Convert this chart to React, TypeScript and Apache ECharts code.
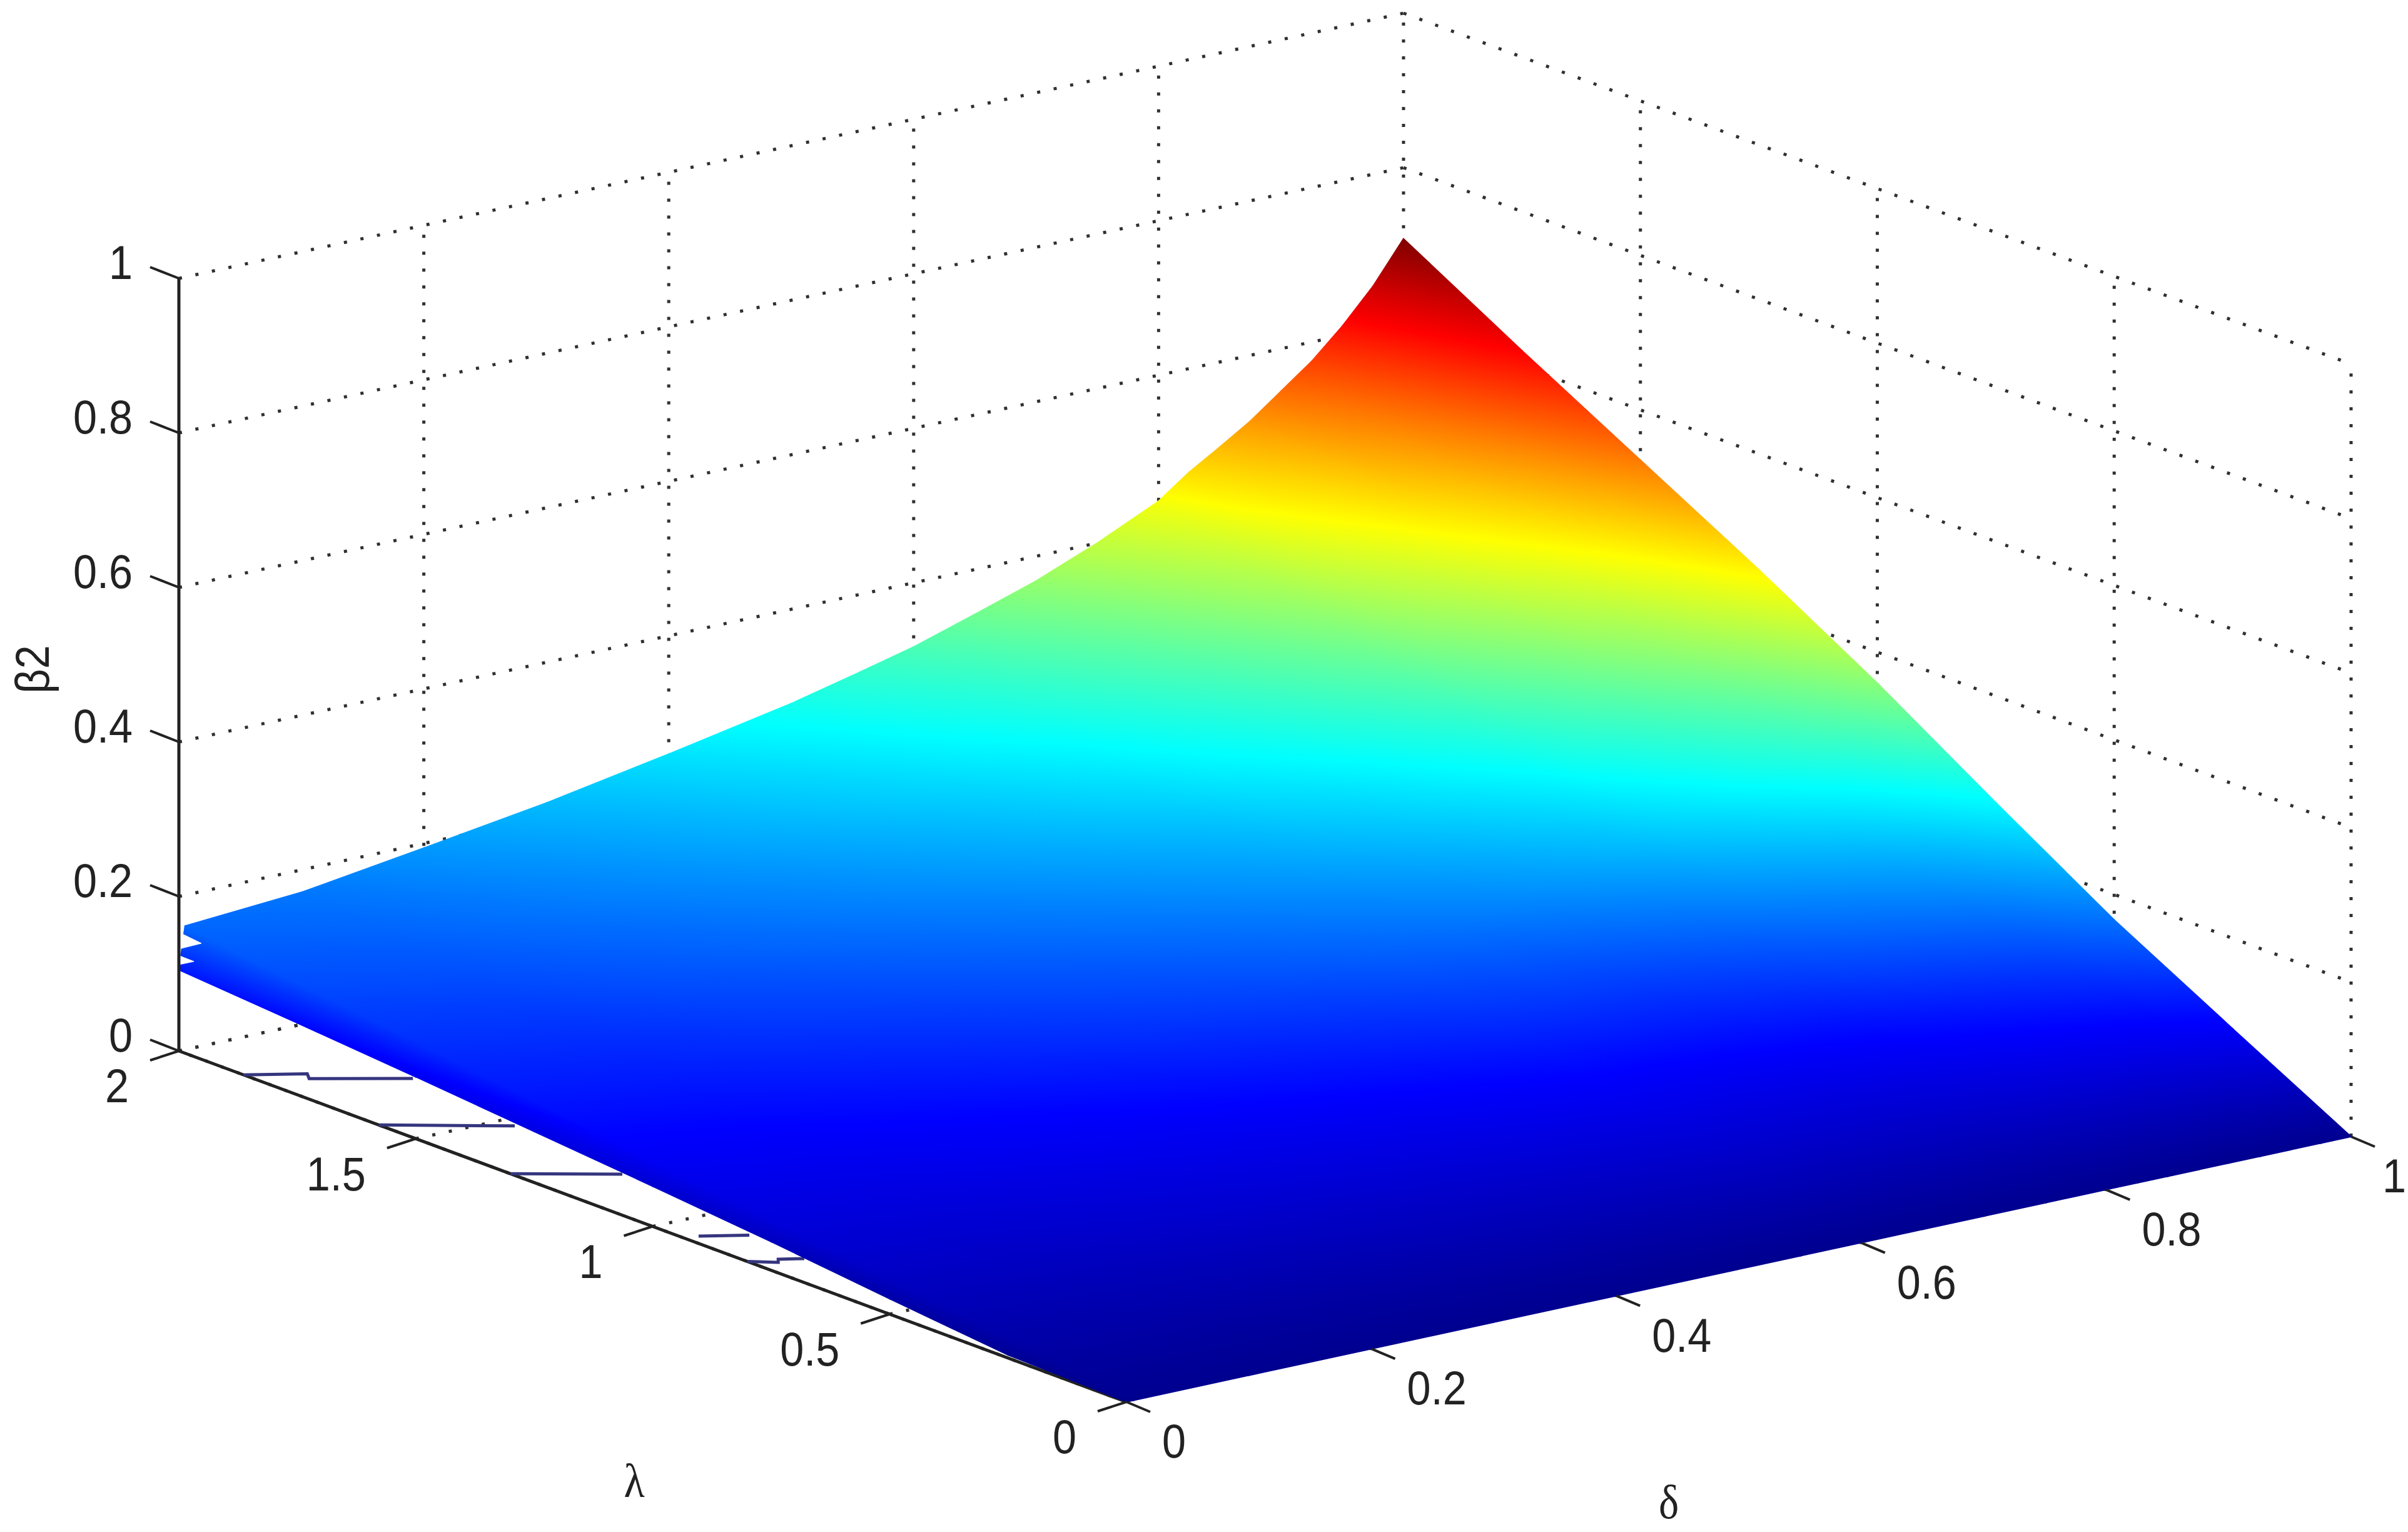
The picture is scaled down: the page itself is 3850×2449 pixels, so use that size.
import React, { useEffect, useRef } from "react";
import * as echarts from "echarts";

const WIDTH = 3850;
const HEIGHT = 2449;

const deltaTicks = [0, 0.2, 0.4, 0.6, 0.8, 1];
const lambdaTicks = [0, 0.5, 1, 1.5, 2];
const betaTicks = [0, 0.2, 0.4, 0.6, 0.8, 1];

// surface nodes
const deltaGrid = [0, 0.005, 0.1, 0.2, 0.3, 0.4, 0.5, 0.55, 0.6, 0.65, 0.7, 0.75, 0.8, 0.825, 0.85, 0.875, 0.9, 0.925, 0.95, 0.975, 1];
const lambdaGrid = [0, 0.25, 0.5, 0.75, 1, 1.25, 1.5, 1.75, 2];
const betaAtLambda000 = [0, 0, 0, 0, 0, 0, 0, 0, 0, 0, 0, 0, 0, 0, 0, 0, 0, 0, 0, 0, 0];
const betaAtLambda025 = [0.004, 0.02, 0.021, 0.024, 0.027, 0.031, 0.035, 0.037, 0.04, 0.041, 0.043, 0.044, 0.048, 0.051, 0.054, 0.057, 0.06, 0.064, 0.069, 0.075, 0.083];
const betaAtLambda050 = [0.02, 0.04, 0.043, 0.049, 0.055, 0.062, 0.07, 0.074, 0.079, 0.08, 0.083, 0.088, 0.095, 0.102, 0.107, 0.113, 0.119, 0.126, 0.136, 0.15, 0.167];
const betaAtLambda075 = [0.037, 0.06, 0.064, 0.073, 0.082, 0.093, 0.104, 0.111, 0.119, 0.125, 0.13, 0.14, 0.153, 0.163, 0.172, 0.18, 0.19, 0.2, 0.216, 0.238, 0.262];
const betaAtLambda100 = [0.052, 0.08, 0.086, 0.097, 0.109, 0.124, 0.139, 0.149, 0.159, 0.171, 0.184, 0.2, 0.219, 0.233, 0.245, 0.258, 0.273, 0.288, 0.306, 0.33, 0.36];
const betaAtLambda125 = [0.066, 0.1, 0.107, 0.121, 0.136, 0.154, 0.174, 0.186, 0.198, 0.214, 0.23, 0.25, 0.273, 0.291, 0.306, 0.322, 0.341, 0.359, 0.383, 0.412, 0.45];
const betaAtLambda150 = [0.08, 0.12, 0.128, 0.146, 0.164, 0.185, 0.209, 0.223, 0.238, 0.257, 0.276, 0.3, 0.328, 0.35, 0.368, 0.386, 0.409, 0.431, 0.459, 0.494, 0.535];
const betaAtLambda175 = [0.093, 0.14, 0.15, 0.17, 0.191, 0.216, 0.243, 0.26, 0.277, 0.299, 0.322, 0.35, 0.382, 0.408, 0.429, 0.451, 0.477, 0.503, 0.536, 0.577, 0.62];
const betaAtLambda200 = [0.105, 0.16, 0.171, 0.194, 0.218, 0.247, 0.278, 0.297, 0.317, 0.342, 0.368, 0.4, 0.437, 0.466, 0.49, 0.515, 0.545, 0.575, 0.612, 0.655, 0.708];
const betaRows = [
  betaAtLambda000, betaAtLambda025, betaAtLambda050, betaAtLambda075, betaAtLambda100,
  betaAtLambda125, betaAtLambda150, betaAtLambda175, betaAtLambda200,
];
const betaMax = 0.708;

// gaps in the surface's end at lambda = 2: [delta, beta] corners
const edgeGapA = [[0.0005, 0.153], [0.0184, 0.133], [0.0005, 0.132]];
const edgeGapB = [[0.0005, 0.123], [0.0123, 0.1116], [0.0005, 0.1117]];
const edgeGaps = [edgeGapA, edgeGapB];

// stray surface lines at delta = 0: [lambda, beta] points
const strayA = [[1.864, 0], [1.729, 0.032], [1.725, 0.0267], [1.506, 0.0766]];
const strayB = [[1.578, 0], [1.291, 0.064]];
const strayC = [[1.3, 0], [1.064, 0.053]];
const strayD = [[0.903, 0.0095], [0.796, 0.035]];
const strayE = [[0.8, 0], [0.735, 0.0136], [0.735, 0.0177], [0.68, 0.031]];
const strayLines = [strayA, strayB, strayC, strayD, strayE];

const jetPositions = [0, 0.125, 0.375, 0.5, 0.625, 0.875, 1];
const jetColors = [
  [0, 0, 143], [0, 0, 255], [0, 255, 255], [128, 255, 128], [255, 255, 0], [255, 0, 0], [128, 0, 0],
];

function jet(v: number): string {
  const t = Math.max(0, Math.min(1, v / betaMax));
  let k = 0;
  while (k < jetPositions.length - 2 && t > jetPositions[k + 1]) k++;
  const f = (t - jetPositions[k]) / (jetPositions[k + 1] - jetPositions[k]);
  const c = jetColors[k].map((a, i) => Math.round(a + (jetColors[k + 1][i] - a) * f));
  return `rgb(${c[0]},${c[1]},${c[2]})`;
}

// orthographic view of the 3-D box, in page pixels
function project(d: number, l: number, b: number): number[] {
  return [1801 + 1958 * d - 757.5 * l, 2241 - 424 * d - 280.5 * l - 1235 * b];
}

// colour of a triangle whose value varies linearly over it: an exact jet gradient
function triangleFill(p: number[][], v: number[]): any {
  const lo = Math.min(v[0], v[1], v[2]);
  const hi = Math.max(v[0], v[1], v[2]);
  const ax = p[1][0] - p[0][0], ay = p[1][1] - p[0][1];
  const bx = p[2][0] - p[0][0], by = p[2][1] - p[0][1];
  const det = ax * by - bx * ay;
  if (hi - lo < 1e-6 || Math.abs(det) < 1e-6) return jet((lo + hi) / 2);
  const dv1 = v[1] - v[0], dv2 = v[2] - v[0];
  const gx = (dv1 * by - dv2 * ay) / det;
  const gy = (ax * dv2 - bx * dv1) / det;
  const g2 = gx * gx + gy * gy;
  const s = p[v.indexOf(lo)];
  const stops = [{ offset: 0, color: jet(lo) }];
  jetPositions.forEach((pos) => {
    const z = pos * betaMax;
    if (z > lo && z < hi) stops.push({ offset: (z - lo) / (hi - lo), color: jet(z) });
  });
  stops.push({ offset: 1, color: jet(hi) });
  const k = (hi - lo) / g2;
  return new echarts.graphic.LinearGradient(s[0], s[1], s[0] + gx * k, s[1] + gy * k, stops, true);
}

const INK = "#222222";
const FONT = '76px "Liberation Sans", Arial, sans-serif';
const GREEK = '76px "Liberation Serif", "DejaVu Serif", serif';
const NARROW = 0.9;

type Seg = [number, number, number, number, number, number];
const dottedSegs: Seg[] = [
  ...betaTicks.flatMap((b): Seg[] => [[0, 2, b, 1, 2, b], [1, 2, b, 1, 0, b]]),
  ...deltaTicks.filter((d) => d > 0).map((d): Seg => [d, 2, 0, d, 2, 1]),
  ...lambdaTicks.filter((l) => l < 2).map((l): Seg => [1, l, 0, 1, l, 1]),
  ...lambdaTicks.filter((l) => l > 0).map((l): Seg => [0, l, 0, 1, l, 0]),
  ...deltaTicks.filter((d) => d < 1).map((d): Seg => [d, 0, 0, d, 2, 0]),
];

const cells: number[][] = [];
for (let j = lambdaGrid.length - 2; j >= 0; j--) {
  for (let i = deltaGrid.length - 2; i >= 0; i--) cells.push([i, j]);
}

type Lab = { text: string; pos: number[]; dx: number; dy: number; align: string };
const tickLabels: Lab[] = [
  ...betaTicks.map((b) => ({ text: String(b), pos: [0, 2, b], dx: -74, dy: -25, align: "right" })),
  ...lambdaTicks.map((l) => ({ text: String(l), pos: [0, l, 0], dx: -80, dy: 56, align: "right" })),
  ...deltaTicks.map((d) => ({ text: String(d), pos: [d, 0, 0], dx: d === 1 ? 50 : 57, dy: 63, align: "left" })),
];
const tickMarks: { pos: number[]; dx: number; dy: number }[] = [
  ...betaTicks.map((b) => ({ pos: [0, 2, b], dx: -46, dy: -18 })),
  ...lambdaTicks.map((l) => ({ pos: [0, l, 0], dx: -46, dy: 15 })),
  ...deltaTicks.map((d) => ({ pos: [d, 0, 0], dx: 38, dy: 16 })),
];
const axisTitles = [
  { text: "\u03b22", x: 52, y: 1070, rotation: Math.PI / 2, font: FONT },
  { text: "\u03bb", x: 1014, y: 2368, rotation: 0, font: GREEK },
  { text: "\u03b4", x: 2668, y: 2402, rotation: 0, font: GREEK },
];

function indexData(list: unknown[]) {
  return list.map((_, i) => [i]);
}

export default function App() {
  const ref = useRef<HTMLDivElement>(null);
  useEffect(() => {
    const chart = echarts.init(ref.current!, undefined, { renderer: "svg" });
    const base = {
      type: "custom" as const,
      coordinateSystem: "cartesian2d",
      silent: true,
      clip: false,
      progressive: 0,
      encode: { x: 0, y: 0 },
    };
    chart.setOption({
      animation: false,
      backgroundColor: "#ffffff",
      grid: { left: 0, right: 0, top: 0, bottom: 0 },
      xAxis: { type: "value", min: 0, max: WIDTH, show: false },
      yAxis: { type: "value", min: 0, max: HEIGHT, inverse: true, show: false },
      series: [
        {
          ...base,
          name: "grid",
          z: 1,
          data: indexData(dottedSegs),
          renderItem: (_p: any, api: any) => {
            const s = dottedSegs[api.value(0)];
            const a = api.coord(project(s[0], s[1], s[2]));
            const b = api.coord(project(s[3], s[4], s[5]));
            return {
              type: "line",
              shape: { x1: a[0], y1: a[1], x2: b[0], y2: b[1] },
              style: { stroke: "#303030", lineWidth: 5, lineDash: [5, 22], fill: null },
            };
          },
        },
        {
          ...base,
          name: "lambda axis",
          z: 2,
          data: [[0]],
          renderItem: (_p: any, api: any) => {
            const a = api.coord(project(0, 2, 0));
            const b = api.coord(project(0, 0, 0));
            return {
              type: "line",
              shape: { x1: a[0], y1: a[1], x2: b[0], y2: b[1] },
              style: { stroke: INK, lineWidth: 5, fill: null },
            };
          },
        },
        {
          ...base,
          name: "stray lines",
          z: 2,
          data: indexData(strayLines),
          renderItem: (_p: any, api: any) => ({
            type: "polyline",
            shape: {
              points: strayLines[api.value(0)].map((p) => api.coord(project(0, p[0], p[1]))),
            },
            style: { stroke: "#35357f", lineWidth: 5, fill: null },
          }),
        },
        {
          ...base,
          name: "surface",
          z: 3,
          data: indexData(cells),
          renderItem: (_p: any, api: any) => {
            const [i, j] = cells[api.value(0)];
            const node = (a: number, b: number) => ({
              p: api.coord(project(deltaGrid[a], lambdaGrid[b], betaRows[b][a])),
              v: betaRows[b][a],
            });
            const n00 = node(i, j), n10 = node(i + 1, j), n01 = node(i, j + 1), n11 = node(i + 1, j + 1);
            const tri = (a: any, b: any, c: any) => {
              const fill = triangleFill([a.p, b.p, c.p], [a.v, b.v, c.v]);
              return {
                type: "polygon",
                shape: { points: [a.p, b.p, c.p] },
                style: { fill, stroke: fill, lineWidth: 2 },
              };
            };
            return { type: "group", children: [tri(n11, n10, n01), tri(n10, n01, n00)] };
          },
        },
        {
          ...base,
          name: "edge gaps",
          z: 4,
          data: indexData(edgeGaps),
          renderItem: (_p: any, api: any) => ({
            type: "polygon",
            shape: {
              points: edgeGaps[api.value(0)].map((p) => api.coord(project(p[0], 2, p[1]))),
            },
            style: { fill: "#ffffff", stroke: "#ffffff", lineWidth: 1 },
          }),
        },
        {
          ...base,
          name: "beta axis",
          z: 5,
          data: [[0]],
          renderItem: (_p: any, api: any) => {
            const a = api.coord(project(0, 2, 0));
            const b = api.coord(project(0, 2, 1));
            return {
              type: "line",
              shape: { x1: a[0], y1: a[1], x2: b[0], y2: b[1] },
              style: { stroke: INK, lineWidth: 5, fill: null },
            };
          },
        },
        {
          ...base,
          name: "ticks",
          z: 5,
          data: indexData(tickMarks),
          renderItem: (_p: any, api: any) => {
            const t = tickMarks[api.value(0)];
            const a = api.coord(project(t.pos[0], t.pos[1], t.pos[2]));
            return {
              type: "line",
              shape: { x1: a[0], y1: a[1], x2: a[0] + t.dx, y2: a[1] + t.dy },
              style: { stroke: INK, lineWidth: 4, fill: null },
            };
          },
        },
        {
          ...base,
          name: "tick labels",
          z: 6,
          data: indexData(tickLabels),
          renderItem: (_p: any, api: any) => {
            const t = tickLabels[api.value(0)];
            const a = api.coord(project(t.pos[0], t.pos[1], t.pos[2]));
            return {
              type: "text",
              x: a[0] + t.dx,
              y: a[1] + t.dy,
              scaleX: NARROW,
              style: {
                text: t.text,
                font: FONT,
                fill: INK,
                textAlign: t.align,
                textVerticalAlign: "middle",
                align: t.align,
                verticalAlign: "middle",
              },
            };
          },
        },
        {
          ...base,
          name: "axis titles",
          z: 6,
          data: indexData(axisTitles),
          renderItem: (_p: any, api: any) => {
            const t = axisTitles[api.value(0)];
            const a = api.coord([t.x, t.y]);
            return {
              type: "text",
              x: a[0],
              y: a[1],
              rotation: t.rotation,
              scaleX: NARROW,
              style: {
                text: t.text,
                font: t.font,
                fill: INK,
                textAlign: "center",
                textVerticalAlign: "middle",
                align: "center",
                verticalAlign: "middle",
              },
            };
          },
        },
      ],
    });
    return () => chart.dispose();
  }, []);
  return (
    <div
      ref={ref}
      style={{ position: "fixed", left: 0, top: 0, width: WIDTH, height: HEIGHT, background: "#fff" }}
    />
  );
}
